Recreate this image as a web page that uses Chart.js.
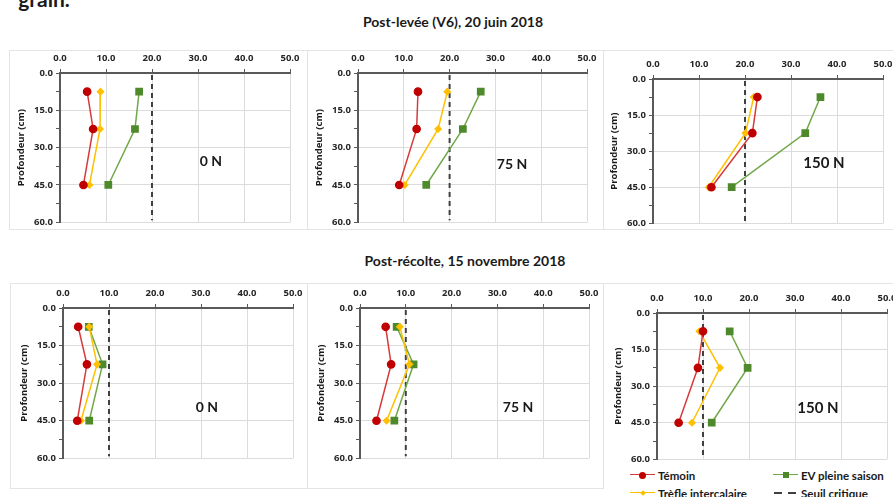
<!DOCTYPE html>
<html><head><meta charset="utf-8">
<script src="https://cdn.jsdelivr.net/npm/chart.js@4"></script>
<style>
body{margin:0;width:893px;height:497px;overflow:hidden;background:#fff;position:relative;font-family:"Open Sans",Lato,sans-serif;}
canvas{position:absolute;}
.t{position:absolute;font-weight:bold;color:#1a1a1a;transform:translate(-50%,-50%);white-space:nowrap;font-family:Lato,"Open Sans",sans-serif;}
.fr{position:absolute;border:1px solid #e4e4e4;box-sizing:border-box;}
.lg{position:absolute;font-size:11.5px;font-weight:bold;color:#1a1a1a;white-space:nowrap;transform:translateY(-50%);font-family:Lato,sans-serif;}
.ln{position:absolute;height:0;}
.mk{position:absolute;}
</style></head><body>
<div class="t" style="left:44px;top:-2px;font-size:21px;">grain.</div>
<div class="fr" style="left:9px;top:50px;width:299px;height:180px;"></div>
<div class="fr" style="left:307px;top:50px;width:297px;height:180px;"></div>
<div class="fr" style="left:603px;top:50px;width:300px;height:180px;"></div>
<div class="fr" style="left:10px;top:283px;width:298px;height:206px;"></div>
<div class="fr" style="left:307px;top:283px;width:297px;height:206px;"></div>
<div class="fr" style="left:603px;top:283px;width:300px;height:190px;border-bottom:none;"></div>
<div class="t" style="left:453px;top:21px;font-size:14px;">Post-levée (V6), 20 juin 2018</div>
<div class="t" style="left:465px;top:260px;font-size:14px;">Post-récolte, 15 novembre 2018</div>
<canvas id="c1"></canvas><canvas id="c2"></canvas><canvas id="c3"></canvas>
<canvas id="c4"></canvas><canvas id="c5"></canvas><canvas id="c6"></canvas>
<div class="t" style="left:211px;top:160px;font-size:14px;">0 N</div>
<div class="t" style="left:512px;top:163px;font-size:14px;">75 N</div>
<div class="t" style="left:824px;top:162px;font-size:15px;">150 N</div>
<div class="t" style="left:207px;top:406px;font-size:14px;">0 N</div>
<div class="t" style="left:518px;top:406px;font-size:14px;">75 N</div>
<div class="t" style="left:818px;top:407px;font-size:15px;">150 N</div>
<div id="legend"></div>
<script>
// Depths (cm)
const depths = [7.5, 22.5, 45];
const xTickMax = 50, xTickStep = 10;
const yTickMax = 60, yTickStep = 7.5, yLabelStep = 15;
const seriesNames = ['Témoin', 'Trèfle intercalaire', 'EV pleine saison', 'Seuil critique'];
// Post-levée (V6), 20 juin 2018
const temoinJuin0N = [5.9, 7.2, 5.1];
const trefleJuin0N = [8.8, 8.7, 6.4];
const evJuin0N = [17.2, 16.3, 10.5];
const temoinJuin75N = [13.1, 12.8, 9.0];
const trefleJuin75N = [19.5, 17.5, 10.2];
const evJuin75N = [26.8, 22.9, 14.9];
const temoinJuin150N = [22.7, 21.6, 12.7];
const trefleJuin150N = [21.9, 20.1, 12.1];
const evJuin150N = [36.4, 33.1, 17.1];
const seuilJuin = 20;
// Post-récolte, 15 novembre 2018
const temoinNov0N = [3.3, 5.2, 3.1];
const trefleNov0N = [5.7, 7.4, 3.9];
const evNov0N = [5.6, 8.6, 5.7];
const temoinNov75N = [5.6, 6.8, 3.6];
const trefleNov75N = [8.7, 10.8, 5.8];
const evNov75N = [8.0, 11.7, 7.5];
const temoinNov150N = [10.0, 8.9, 4.7];
const trefleNov150N = [9.2, 13.7, 7.6];
const evNov150N = [15.8, 19.7, 11.9];
const seuilNov = 10;

const C = {tem:'#c00000', temLine:'#d83a3a', tre:'#ffc000', ev:'#4e8a2c', evLine:'#70a848', seuil:'#404040'};
const tickFont = {family:'Open Sans', size:9.5, weight:'bold'};

function pts(vals){ return vals.map((v,i)=>({x:v, y:depths[i]})); }

function makeChart(id, plotL, plotT, plotR, plotB, tem, tre, ev, seuil){
  const cv = document.getElementById(id);
  const AW = 48, AH = 30, PR = 15, PB = 8;
  const left = plotL - AW, top = plotT - AH;
  const w = plotR - plotL + AW + PR, h = plotB - plotT + AH + PB;
  cv.width = w; cv.height = h;
  cv.style.left = left + 'px'; cv.style.top = top + 'px';
  cv.style.width = w + 'px'; cv.style.height = h + 'px';
  new Chart(cv, {
    type:'line',
    data:{datasets:[
      {label:seriesNames[0], data:pts(tem), borderColor:C.temLine, backgroundColor:C.tem, borderWidth:1.5,
       pointStyle:'circle', pointRadius:3.6, pointBorderColor:C.tem, pointBackgroundColor:C.tem},
      {label:seriesNames[1], data:pts(tre), borderColor:C.tre, backgroundColor:C.tre, borderWidth:1.5,
       pointStyle:'rectRot', pointRadius:3, pointBorderColor:C.tre, pointBackgroundColor:C.tre},
      {label:seriesNames[2], data:pts(ev), borderColor:C.evLine, backgroundColor:C.ev, borderWidth:1.5,
       pointStyle:'rect', pointRadius:4.4, pointBorderColor:C.ev, pointBackgroundColor:C.ev},
      {label:seriesNames[3], data:[{x:seuil,y:0.8},{x:seuil,y:yTickMax-0.8}], borderColor:C.seuil, borderWidth:2,
       borderDash:[5,4], pointRadius:0}
    ]},
    options:{
      responsive:false, animation:false, devicePixelRatio:1,
      layout:{padding:{left:0, top:0, right:PR, bottom:PB}},
      plugins:{legend:{display:false}, tooltip:{enabled:false}},
      scales:{
        x:{type:'linear', position:'top', min:0, max:xTickMax,
           ticks:{stepSize:xTickStep, color:'#262626', font:tickFont, padding:5, maxRotation:0,
                  callback:v=>v.toFixed(1)},
           grid:{color:c=>(c.tick && c.tick.value===0)?'rgba(0,0,0,0)':'#dcdcdc', tickColor:'#595959', tickLength:4, lineWidth:1},
           border:{display:true, color:'#595959', width:2},
           afterFit:s=>{s.height = AH;}},
        y:{type:'linear', reverse:true, min:0, max:yTickMax,
           ticks:{stepSize:yTickStep, autoSkip:false, color:'#262626', font:tickFont, padding:3,
                  callback:v=>(Math.abs(v % yLabelStep) < 1e-6 ? v.toFixed(1) : '')},
           grid:{color:c=>(c.tick && c.tick.value>0 && Math.abs(c.tick.value % yLabelStep)<1e-6)?'#dcdcdc':'rgba(0,0,0,0)',
                 tickColor:'#595959', tickLength:4, lineWidth:1},
           border:{display:true, color:'#595959', width:2},
           title:{display:true, text:'Profondeur (cm)', color:'#1a1a1a', font:{family:'Open Sans', size:9.5, weight:'bold'}, padding:{top:4, bottom:0}},
           afterFit:s=>{s.width = AW;}}
      }
    }
  });
}

makeChart('c1', 60, 73, 290, 223, temoinJuin0N, trefleJuin0N, evJuin0N, seuilJuin);
makeChart('c2', 358, 73, 587, 223, temoinJuin75N, trefleJuin75N, evJuin75N, seuilJuin);
makeChart('c3', 653, 79, 883, 224, temoinJuin150N, trefleJuin150N, evJuin150N, seuilJuin);
makeChart('c4', 63, 308, 293, 459, temoinNov0N, trefleNov0N, evNov0N, seuilNov);
makeChart('c5', 360, 308, 589, 459, temoinNov75N, trefleNov75N, evNov75N, seuilNov);
makeChart('c6', 657, 313, 887, 460, temoinNov150N, trefleNov150N, evNov150N, seuilNov);

// Legend (HTML)
const lg = document.getElementById('legend');
function addLegend(x, y, name, color, marker, dashed){
  if (dashed){
    [0, 14].forEach(dx=>{
      const d = document.createElement('div'); d.className='ln';
      d.style.left=(x+dx+1)+'px'; d.style.top=(y-1)+'px'; d.style.width='8px';
      d.style.borderTop='2px solid '+color; lg.appendChild(d);
    });
  } else {
    const ln = document.createElement('div'); ln.className='ln';
    ln.style.left = x+'px'; ln.style.top = (y-1)+'px'; ln.style.width='25px';
    ln.style.borderTop = '1.5px solid '+color;
    lg.appendChild(ln);
  }
  if (marker){
    const m = document.createElement('div'); m.className='mk';
    const s = marker.size;
    m.style.width=s+'px'; m.style.height=s+'px'; m.style.background=marker.color;
    m.style.left=(x+12.5-s/2)+'px'; m.style.top=(y-s/2)+'px';
    if (marker.shape==='circle') m.style.borderRadius='50%';
    if (marker.shape==='diamond') m.style.transform='rotate(45deg)';
    lg.appendChild(m);
  }
  const t = document.createElement('div'); t.className='lg';
  t.style.left=(x+28)+'px'; t.style.top=y+'px'; t.textContent=name;
  lg.appendChild(t);
}
addLegend(630, 475, seriesNames[0], C.temLine, {shape:'circle', size:7, color:C.tem});
addLegend(773, 475, seriesNames[2], C.evLine, {shape:'square', size:6, color:C.ev});
addLegend(630, 493, seriesNames[1], C.tre, {shape:'diamond', size:4, color:C.tre});
addLegend(773, 493, seriesNames[3], C.seuil, null, true);
</script>
</body></html>
